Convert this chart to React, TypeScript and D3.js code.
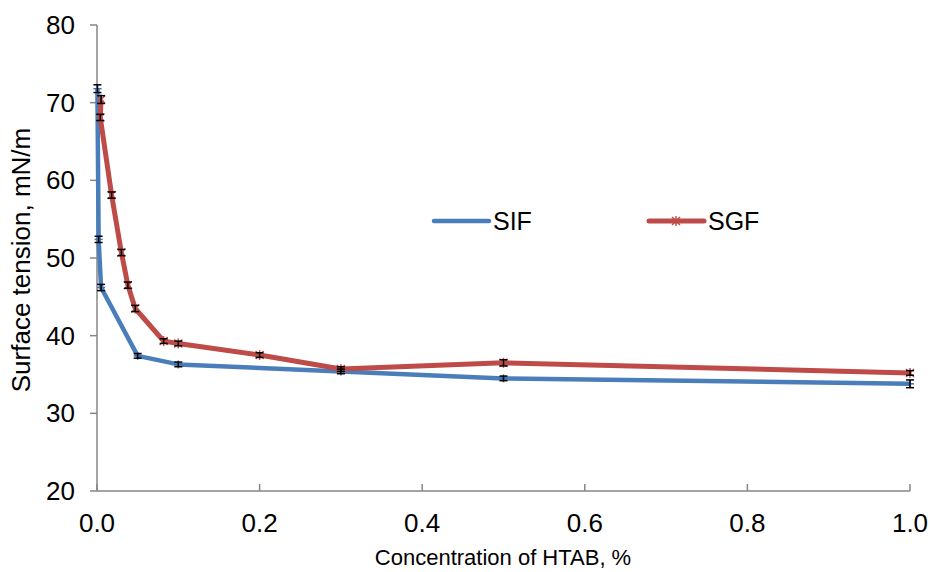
import React from "react";
import * as d3 from "d3";

// concentration (%) and surface tension (mN/m)
const sifConc = [0.0005, 0.002, 0.005, 0.05, 0.1, 0.3, 0.5, 1.0];
const sifTension = [71.8, 52.4, 46.2, 37.4, 36.3, 35.4, 34.5, 33.8];
const sifError = [0.5, 0.4, 0.4, 0.3, 0.3, 0.3, 0.3, 0.5];

const sgfConc = [0.005, 0.004, 0.018, 0.03, 0.038, 0.047, 0.082, 0.1, 0.2, 0.3, 0.5, 1.0];
const sgfTension = [70.4, 68.1, 58.1, 50.7, 46.5, 43.5, 39.3, 39.0, 37.5, 35.7, 36.5, 35.2];
const sgfError = [0.5, 0.4, 0.4, 0.4, 0.4, 0.4, 0.3, 0.3, 0.3, 0.3, 0.4, 0.3];

const xTicks = [0, 0.2, 0.4, 0.6, 0.8, 1.0];
const yTicks = [20, 30, 40, 50, 60, 70, 80];

const W = 930;
const H = 572;
const blue = "#4A7EBB";
const red = "#BE4B48";
const axisColor = "#868686";
const font = "'Liberation Sans', Arial, sans-serif";

export default function App() {
  const x = d3.scaleLinear().domain([0, 1]).range([97, 910]);
  const y = d3.scaleLinear().domain([20, 80]).range([491, 25]);

  const sif = sifConc.map((c, i) => ({ c, v: sifTension[i], e: sifError[i] }));
  const sgf = sgfConc.map((c, i) => ({ c, v: sgfTension[i], e: sgfError[i] }));

  const line = d3
    .line<{ c: number; v: number }>()
    .x((d) => x(d.c))
    .y((d) => y(d.v));

  const errorBars = (data: { c: number; v: number; e: number }[], key: string) =>
    data.map((d, i) => {
      const cx = x(d.c);
      const top = y(d.v + d.e);
      const bot = y(d.v - d.e);
      return (
        <g key={key + i} stroke="#000" strokeWidth={1.5}>
          <line x1={cx} x2={cx} y1={top} y2={bot} />
          <line x1={cx - 4} x2={cx + 4} y1={top} y2={top} />
          <line x1={cx - 4} x2={cx + 4} y1={bot} y2={bot} />
        </g>
      );
    });

  const star = (cx: number, cy: number, k: string) => (
    <g key={k} stroke={red} strokeWidth={1.4}>
      <line x1={cx - 4} x2={cx + 4} y1={cy - 4} y2={cy + 4} />
      <line x1={cx - 4} x2={cx + 4} y1={cy + 4} y2={cy - 4} />
      <line x1={cx} x2={cx} y1={cy - 5} y2={cy + 5} />
    </g>
  );

  const plus = (cx: number, cy: number, k: string) => (
    <g key={k} stroke="#3d6ea8" strokeWidth={1.5}>
      <line x1={cx} x2={cx} y1={cy - 4} y2={cy + 4} />
      <line x1={cx - 4} x2={cx + 4} y1={cy} y2={cy} />
    </g>
  );

  return (
    <div>
      <style>{`body{margin:0}`}</style>
      <svg width={W} height={H} style={{ display: "block", background: "#fff" }}>
        {/* axes */}
        <g stroke={axisColor} strokeWidth={1.5}>
          <line x1={97} x2={97} y1={y(80)} y2={y(20)} />
          <line x1={97} x2={910} y1={y(20)} y2={y(20)} />
          {yTicks.map((t) => (
            <line key={"yt" + t} x1={90} x2={97} y1={y(t)} y2={y(t)} />
          ))}
          {xTicks.map((t) => (
            <line key={"xt" + t} x1={x(t)} x2={x(t)} y1={y(20) - 7} y2={y(20)} />
          ))}
        </g>
        <g fontFamily={font} fill="#000">
          {yTicks.map((t) => (
            <text key={"yl" + t} x={75} y={y(t)} dy="0.35em" textAnchor="end" fontSize={26}>
              {t}
            </text>
          ))}
          {xTicks.map((t) => (
            <text key={"xl" + t} x={x(t)} y={523} dy="0.35em" textAnchor="middle" fontSize={26}>
              {t.toFixed(1)}
            </text>
          ))}
          <text x={503} y={557} dy="0.35em" textAnchor="middle" fontSize={22}>
            Concentration of HTAB, %
          </text>
          <text
            transform={`translate(21,260) rotate(-90)`}
            dy="0.35em"
            textAnchor="middle"
            fontSize={26}
          >
            Surface tension, mN/m
          </text>
        </g>

        {/* series */}
        <path d={line(sif) ?? ""} fill="none" stroke={blue} strokeWidth={4.5} strokeLinejoin="round" />
        <path d={line(sgf) ?? ""} fill="none" stroke={red} strokeWidth={5} strokeLinejoin="round" />
        {sif.map((d, i) => plus(x(d.c), y(d.v), "p" + i))}
        {sgf.map((d, i) => star(x(d.c), y(d.v), "s" + i))}
        {errorBars(sif, "es")}
        {errorBars(sgf, "eg")}

        {/* legend */}
        <g fontFamily={font} fontSize={25}>
          <line x1={434} x2={489} y1={221} y2={221} stroke={blue} strokeWidth={4.5} strokeLinecap="round" />
          <text x={493} y={221} dy="0.35em">SIF</text>
          <line x1={649} x2={704} y1={221} y2={221} stroke={red} strokeWidth={5} strokeLinecap="round" />
          {star(676, 221, "leg")}
          <text x={708} y={221} dy="0.35em">SGF</text>
        </g>
      </svg>
    </div>
  );
}
